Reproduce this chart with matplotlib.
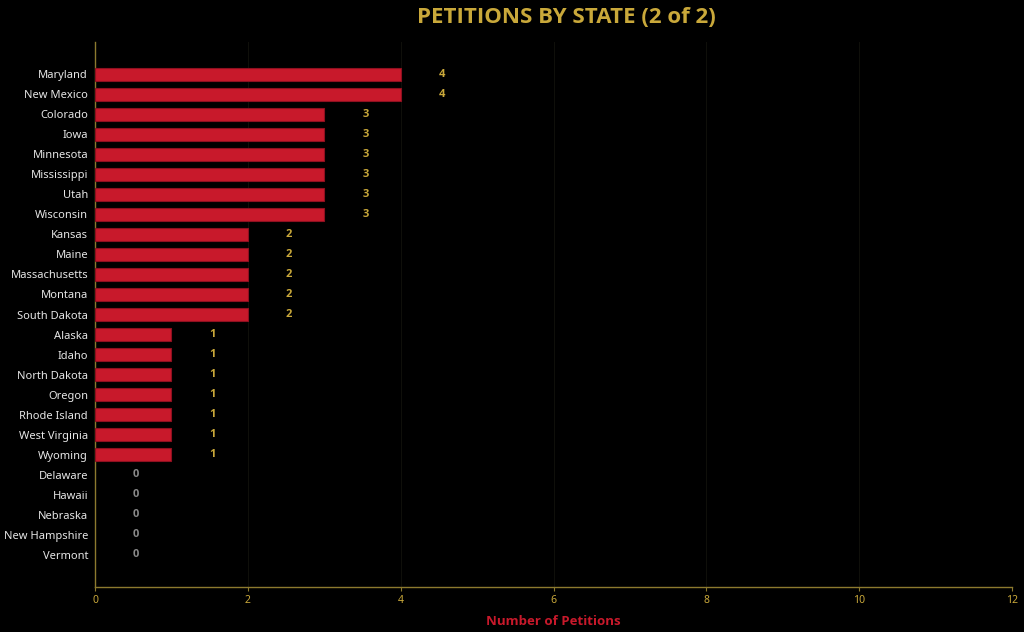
import numpy as np
import matplotlib
matplotlib.use("Agg")
import matplotlib.pyplot as plt

states = ["Maryland", "New Mexico", "Colorado", "Iowa", "Minnesota", "Mississippi",
          "Utah", "Wisconsin", "Kansas", "Maine", "Massachusetts", "Montana",
          "South Dakota", "Alaska", "Idaho", "North Dakota", "Oregon", "Rhode Island",
          "West Virginia", "Wyoming", "Delaware", "Hawaii", "Nebraska",
          "New Hampshire", "Vermont"]
petitions = [4, 4, 3, 3, 3, 3, 3, 3, 2, 2, 2, 2, 2, 1, 1, 1, 1, 1, 1, 1, 0, 0, 0, 0, 0]
x_ticks = [0, 2, 4, 6, 8, 10, 12]

plt.rcParams['font.family'] = ['Noto Sans', 'DejaVu Sans']
bold_font = ['Open Sans', 'DejaVu Sans']

gold = '#c9a83a'
axis_gold = '#8c7a2e'
red = '#c8192b'

fig = plt.figure(figsize=(10.24, 6.32), dpi=100, facecolor='black')
ax = fig.add_axes([0.0928, 0.0712, 0.8955, 0.8623], facecolor='black')

y = np.arange(len(states))
edges = ['#8e1020' if v > 0 else 'none' for v in petitions]
ax.barh(y, petitions, height=0.65, color=red, edgecolor=edges, linewidth=0.8, zorder=3)

for yi, v in zip(y, petitions):
    ax.text(v + 0.54, yi, str(v), ha='center', va='center', fontsize=8,
            fontweight='bold', family=bold_font,
            color=gold if v > 0 else '#8a8a8a', zorder=4)

ax.set_xlim(0, 12)
ax.set_ylim(len(states) - 1 + 1.6, -1.6)
ax.set_yticks(y)
ax.set_yticklabels(states, fontsize=8, color='#e6e6e6')
ax.set_xticks(x_ticks)
ax.set_xticklabels([str(t) for t in x_ticks], fontsize=7.5, color=gold)
ax.tick_params(axis='y', length=0, pad=5)
ax.tick_params(axis='x', length=3, color=axis_gold, pad=3)

ax.grid(axis='x', color='#0f0f0a', linewidth=0.8, zorder=0)
for s in ['top', 'right']:
    ax.spines[s].set_visible(False)
for s in ['left', 'bottom']:
    ax.spines[s].set_color(axis_gold)
    ax.spines[s].set_linewidth(1.0)

ax.set_xlabel("Number of Petitions", fontsize=9.5, fontweight='bold', family=bold_font,
              color=red, labelpad=6)
fig.text(0.553, 0.973, "PETITIONS BY STATE (2 of 2)", ha='center', va='center',
         fontsize=16, fontweight='bold', family=bold_font, color=gold)

fig.savefig("out.png", dpi=100, facecolor='black')
